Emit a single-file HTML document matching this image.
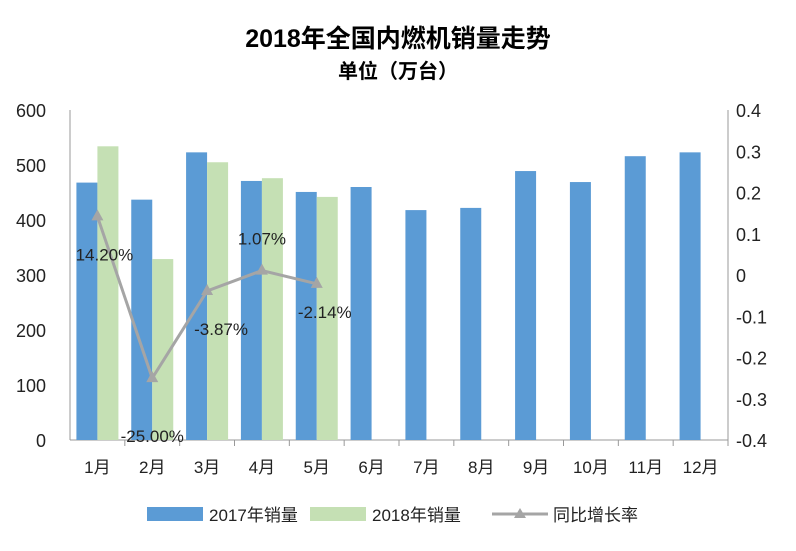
<!DOCTYPE html>
<html><head><meta charset="utf-8"><style>
body{margin:0;background:#fff;}
svg text{font-family:"Liberation Sans","Noto Sans CJK SC",sans-serif;}
</style></head><body>
<svg id="chart" width="796" height="546" xmlns="http://www.w3.org/2000/svg">
<text x="398" y="47" text-anchor="middle" font-size="25" font-weight="bold" fill="#000">2018年全国内燃机销量走势</text>
<text x="398" y="78" text-anchor="middle" font-size="20" font-weight="bold" fill="#000">单位（万台）</text>
<g id="plot"></g>
<g>
 <rect x="147" y="507" width="56" height="14" fill="#5b9bd5"/>
 <text x="209" y="521" font-size="17" fill="#222">2017年销量</text>
 <rect x="310" y="507" width="56" height="14" fill="#c5e0b4"/>
 <text x="372" y="521" font-size="17" fill="#222">2018年销量</text>
 <line x1="492" y1="514" x2="548" y2="514" stroke="#a5a5a5" stroke-width="3"/>
 <polygon points="520,508 526,518 514,518" fill="#a5a5a5"/>
 <text x="553" y="521" font-size="17" fill="#222">同比增长率</text>
</g>
</svg>
<script>
const categories=["1月","2月","3月","4月","5月","6月","7月","8月","9月","10月","11月","12月"];
const sales2017=[468,437,523,471,451,460,418,422,489,469,516,523];
const sales2018=[534,329,505,476,442];
const growth=[0.142,-0.25,-0.0387,0.0107,-0.0214];
const growthLabels=["14.20%","-25.00%","-3.87%","1.07%","-2.14%"];
const leftTicks=[0,100,200,300,400,500,600];
const rightTicks=[-0.4,-0.3,-0.2,-0.1,0,0.1,0.2,0.3,0.4];

const X0=70,X1=728,Y0=440,Y1=110;
const bw=(X1-X0)/categories.length;
const yL=v=>Y0-(v/600)*(Y0-Y1);
const yR=v=>Y0-((v+0.4)/0.8)*(Y0-Y1);
const xc=i=>X0+bw*(i+0.5);
const g=document.getElementById('plot');
const NS="http://www.w3.org/2000/svg";
function mk(t,a){const e=document.createElementNS(NS,t);for(const k in a)e.setAttribute(k,a[k]);g.appendChild(e);return e;}
let e;
e=mk('line',{x1:X0,y1:Y1,x2:X0,y2:Y0,stroke:'#999'});


e=mk('line',{x1:X1,y1:Y1,x2:X1,y2:Y0,stroke:'#999'});


e=mk('line',{x1:X0,y1:Y0,x2:X1,y2:Y0,stroke:'#999'});


leftTicks.forEach(v=>{
 e=mk('text',{x:X0-24,y:yL(v)+7,'text-anchor':'end','font-size':18,fill:'#222'});e.textContent=v;
 
 
});
rightTicks.forEach(v=>{
 e=mk('text',{x:X1+8,y:yR(v)+7,'font-size':18,fill:'#222'});e.textContent=String(Math.round(v*10)/10);
 
 
});
categories.forEach((c,i)=>{
 e=mk('line',{x1:X0+bw*(i+1),y1:Y0,x2:X0+bw*(i+1),y2:Y0+6,stroke:'#999'});
 
 
 e=mk('text',{x:xc(i),y:Y0+33,'text-anchor':'middle','font-size':17,fill:'#222'});e.textContent=c;
 
 
});
sales2017.forEach((v,i)=>{
 e=mk('rect',{x:xc(i)-21,y:yL(v),width:21,height:Y0-yL(v),fill:'#5b9bd5'});
 
 
});
sales2018.forEach((v,i)=>{
 e=mk('rect',{x:xc(i),y:yL(v),width:21,height:Y0-yL(v),fill:'#c5e0b4'});
 
 
});
e=mk('polyline',{points:growth.map((v,i)=>xc(i)+','+yR(v)).join(' '),fill:'none',stroke:'#a5a5a5','stroke-width':3});


const off=[[0,48],[0,68],[0,48],[0,-22],[0,38]];
growth.forEach((v,i)=>{
 const x=xc(i),y=yR(v);
 e=mk('polygon',{points:`${x},${y-7} ${x+6},${y+4} ${x-6},${y+4}`,fill:'#a5a5a5'});
 
 
 e=mk('text',{x:x+off[i][0]+(i==0?7:i==2?14:i==4?8:0),y:y+off[i][1]-4,'text-anchor':'middle','font-size':17,fill:'#222'});
 e.textContent=growthLabels[i];
 
 
});
</script>
</body></html>
